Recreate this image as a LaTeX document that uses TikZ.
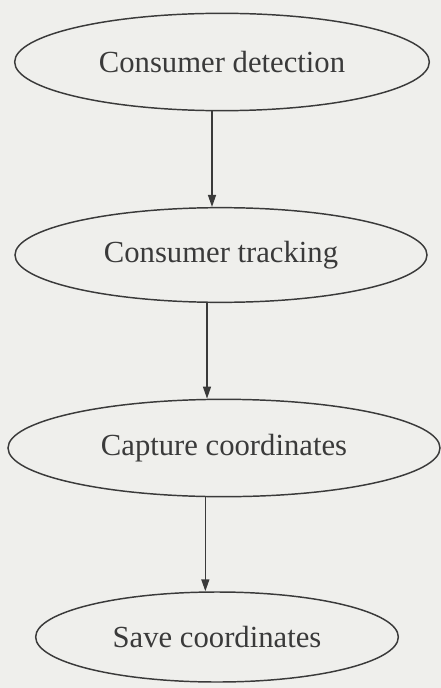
\documentclass[tikz,border=0pt]{standalone}
\usepackage{fontspec}
\setmainfont{Liberation Serif}
\usetikzlibrary{shapes.geometric,arrows.meta}
\definecolor{bgc}{HTML}{EFEFEC}
\definecolor{ink}{HTML}{3A3A3A}
\tikzset{
  oval/.style={ellipse, draw=ink, line width=1.1pt, inner sep=0pt, text=ink,
    font=\fontsize{23}{27}\selectfont},
  arr/.style={draw=ink, line width=1.1pt, -{Triangle[length=9pt,width=6pt]}}
}
\begin{document}
\begin{tikzpicture}[x=0.75pt,y=-0.75pt]
\fill[bgc] (0,0) rectangle (441,688);
\useasboundingbox (0,0) rectangle (441,688);
\node[oval, minimum width=311pt, minimum height=73pt] (e1) at (222,62) {Consumer detection};
\node[oval, minimum width=309pt, minimum height=71pt] (e2) at (221,255) {Consumer tracking};
\node[oval, minimum width=324pt, minimum height=73pt] (e3) at (224,448) {Capture coordinates};
\node[oval, minimum width=272pt, minimum height=67.5pt] (e4) at (217,637) {Save coordinates};
\draw[arr] ([xshift=-7.5pt]e1.south) -- ([xshift=-7.5pt]e1.south |- e2.north);
\draw[arr] ([xshift=-10.5pt]e2.south) -- ([xshift=-10.5pt]e2.south |- e3.north);
\draw[arr] ([xshift=-14pt]e3.south) -- ([xshift=-14pt]e3.south |- e4.north);
\end{tikzpicture}
\end{document}
